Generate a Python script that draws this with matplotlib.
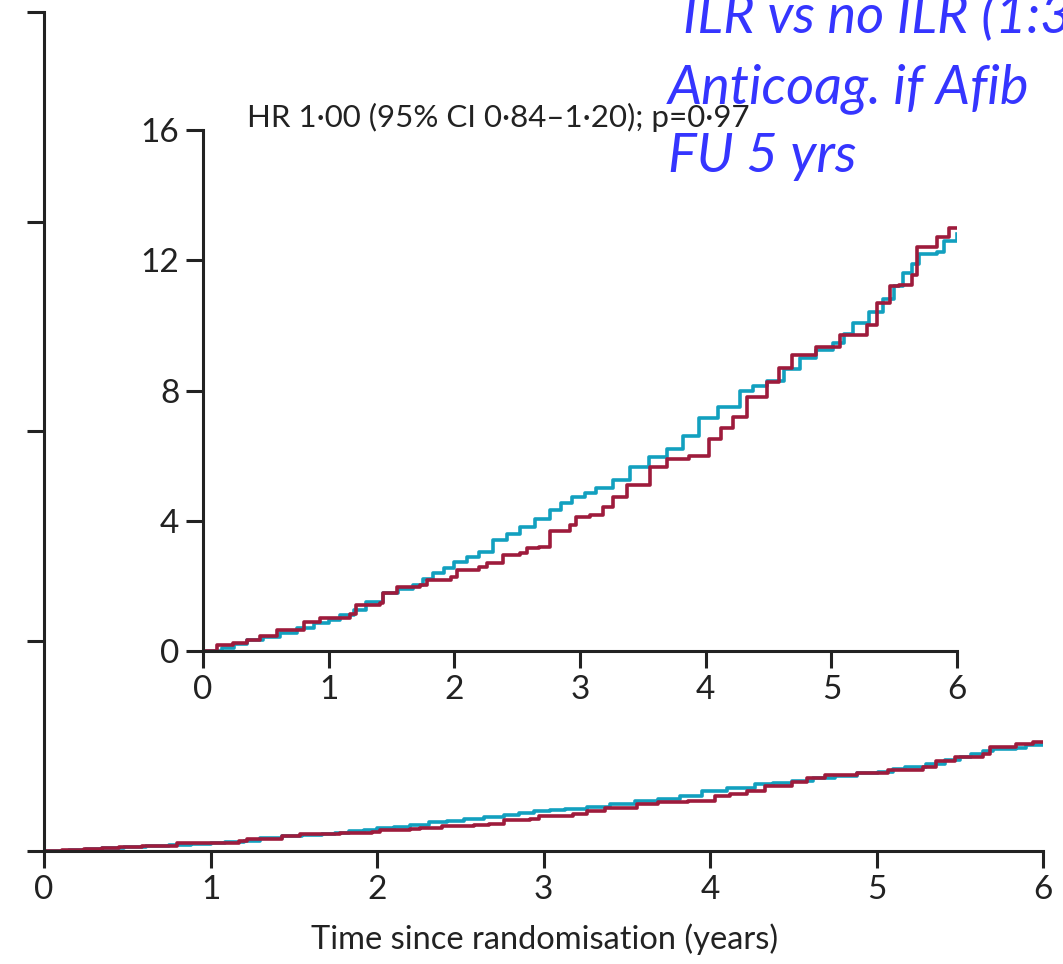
import matplotlib.pyplot as plt

# cumulative incidence (%)
t_cyan = [0, 0.15, 0.25, 0.35, 0.48, 0.61, 0.75, 0.88, 1.0, 1.09, 1.2, 1.3, 1.43, 1.55,
          1.67, 1.75, 1.83, 1.92, 2.0, 2.1, 2.2, 2.31, 2.42, 2.52, 2.64, 2.76, 2.85,
          2.94, 3.04, 3.13, 3.26, 3.4, 3.55, 3.69, 3.82, 3.95, 4.1, 4.27, 4.38, 4.49,
          4.62, 4.75, 4.88, 5.01, 5.1, 5.17, 5.3, 5.41, 5.5, 5.57, 5.64, 5.7, 5.84,
          5.9, 6.0]
y_cyan = [0, 0.1, 0.2, 0.33, 0.42, 0.55, 0.7, 0.85, 0.95, 1.1, 1.25, 1.5, 1.77, 1.9,
          2.03, 2.2, 2.4, 2.55, 2.73, 2.9, 3.05, 3.4, 3.6, 3.8, 4.05, 4.33, 4.55,
          4.73, 4.85, 5.0, 5.25, 5.65, 5.95, 6.2, 6.6, 7.15, 7.5, 8.0, 8.15, 8.3,
          8.65, 9.0, 9.25, 9.45, 9.75, 10.07, 10.4, 10.8, 11.2, 11.6, 11.9, 12.2, 12.25,
          12.6, 12.8]

t_red = [0, 0.11, 0.24, 0.35, 0.45, 0.59, 0.8, 0.93, 1.17, 1.22, 1.41, 1.43, 1.54, 1.73,
         1.78, 1.97, 2.02, 2.2, 2.26, 2.39, 2.52, 2.58, 2.67, 2.76, 2.92, 2.97, 3.08,
         3.18, 3.26, 3.37, 3.56, 3.69, 3.87, 4.03, 4.12, 4.22, 4.33, 4.49, 4.58, 4.69,
         4.88, 5.07, 5.28, 5.36, 5.47, 5.54, 5.64, 5.68, 5.84, 5.94, 6.0]
y_red = [0, 0.18, 0.25, 0.35, 0.45, 0.65, 0.9, 1.0, 1.15, 1.4, 1.47, 1.77, 1.97, 2.03,
         2.18, 2.28, 2.48, 2.58, 2.7, 2.95, 3.0, 3.15, 3.2, 3.7, 3.87, 4.12, 4.18,
         4.42, 4.73, 5.1, 5.65, 5.9, 6.0, 6.5, 6.85, 7.2, 7.8, 8.25, 8.7, 9.1,
         9.35, 9.7, 10.0, 10.7, 11.2, 11.25, 11.55, 12.4, 12.7, 13.0, 13.0]

x_ticks = [0, 1, 2, 3, 4, 5, 6]
outer_yticks = [0, 25, 50, 75, 100]
inset_yticks = [0, 4, 8, 12, 16]

cyan = '#12a0bf'
red = '#9e1b3c'
ink = '#222222'

plt.rcParams['font.family'] = 'Lato'

fig = plt.figure(figsize=(10.63, 9.64), dpi=100)


def style(ax):
    for s in ['top', 'right']:
        ax.spines[s].set_visible(False)
    for s in ['left', 'bottom']:
        ax.spines[s].set_linewidth(2.2)
        ax.spines[s].set_color(ink)
    ax.tick_params(length=12, width=2.2, color=ink, labelsize=24, labelcolor=ink, pad=5)
    ax.set_facecolor('none')


# main axes (0-100%)
ax = fig.add_axes([0.0414, 0.1172, 0.9398, 0.8704])
style(ax)
ax.step(t_cyan, y_cyan, where='post', color=cyan, lw=2.6)
ax.step(t_red, y_red, where='post', color=red, lw=2.6)
ax.set_xlim(0, 6)
ax.set_ylim(0, 100)
ax.set_xticks(x_ticks)
ax.set_yticks(outer_yticks)
ax.set_yticklabels([])

# zoomed inset (0-16%)
ins = fig.add_axes([0.191, 0.3247, 0.7093, 0.5404])
style(ins)
ins.step(t_cyan, y_cyan, where='post', color=cyan, lw=2.6)
ins.step(t_red, y_red, where='post', color=red, lw=2.6)
ins.set_xlim(0, 6)
ins.set_ylim(0, 16)
ins.set_xticks(x_ticks)
ins.set_yticks(inset_yticks)
ins.text(0.35, 16.1, 'HR 1·00 (95% CI 0·84–1·20); p=0·97', fontsize=22.5, color=ink,
         va='baseline')

fig.text(545 / 1063, 0.016, 'Time since randomisation (years)', ha='center', va='baseline',
         fontsize=23.5, color=ink)

# blue annotation
blue = '#3535ff'
fig.text(683 / 1063, 1 - 33 / 964, 'ILR vs no ILR (1:3)', color=blue, fontsize=39,
         style='italic', va='baseline')
fig.text(668 / 1063, 1 - 103 / 964, 'Anticoag. if Afib', color=blue, fontsize=39,
         style='italic', va='baseline')
fig.text(668 / 1063, 1 - 172 / 964, 'FU 5 yrs', color=blue, fontsize=39,
         style='italic', va='baseline')

fig.savefig('out.png', dpi=100)
